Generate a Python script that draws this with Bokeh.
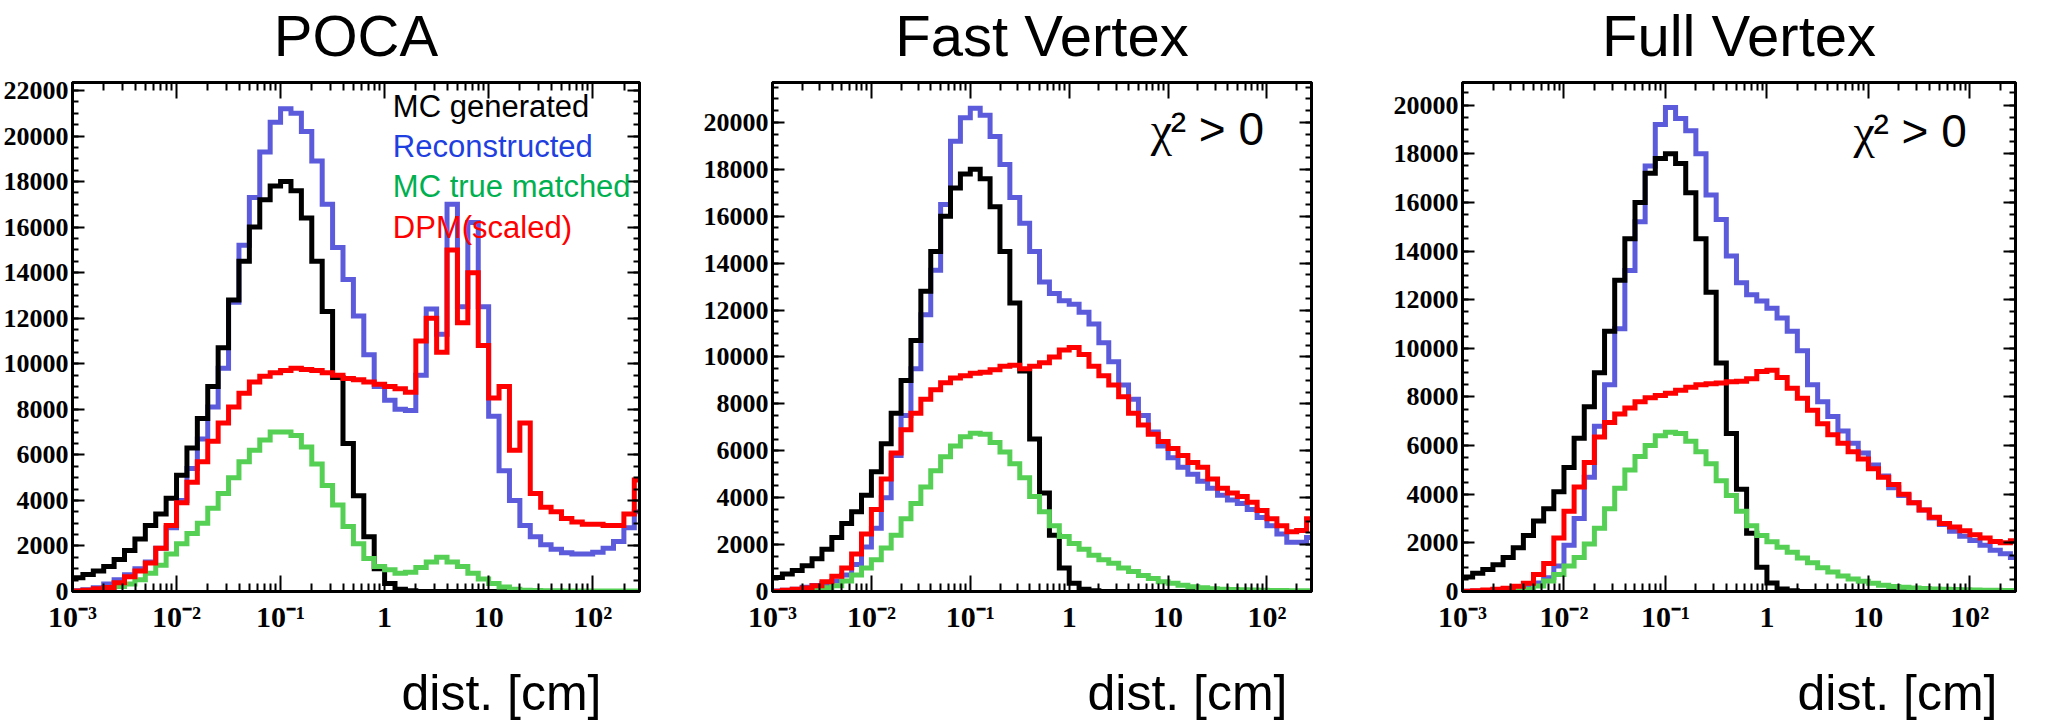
from bokeh.plotting import figure
from bokeh.models import (FixedTicker, LinearAxis, LogAxis, Label, Title, Range1d,
                          CustomJSTickFormatter)
from bokeh.layouts import row
from bokeh.embed import file_html
from bokeh.resources import INLINE

# ---------------- data ----------------
# 55 log-spaced bins, 0.1 decade wide, starting at 1e-3 cm
log_bin_start = -3.0
log_bin_width = 0.1
n_bins = 55
bin_edges = [10 ** (log_bin_start + log_bin_width * k) for k in range(n_bins + 1)]

x_ticks = [1e-3, 1e-2, 1e-1, 1, 10, 100]
x_tick_labels = ["10\u207b\u00b3", "10\u207b\u00b2", "10\u207b\u00b9", "1", "10", "10\u00b2"]

panel_titles = ["POCA", "Fast Vertex", "Full Vertex"]
series_names = ["MC generated", "Reconstructed", "MC true matched", "DPM(scaled)"]
x_axis_title = "dist. [cm]"
cut_symbol = "\u03c7"
cut_rest = "\u00b2 > 0"

mc_generated = [600, 750, 900, 1100, 1400, 1800, 2300, 2900, 3400, 4100, 5100,
                6300, 7600, 9000, 10700, 12800, 14500, 16000, 17200, 17800, 18000, 17600,
                16400, 14500, 12300, 9400, 6500, 4200, 2400, 1000, 350, 100, 30,
                0, 0, 0, 0, 0, 0, 0, 0, 0, 0, 0,
                0, 0, 0, 0, 0, 0, 0, 0, 0, 0, 0]

poca_reco = [30, 80, 170, 330, 520, 740, 1000, 1300, 1900, 2800, 4000,
             5400, 6700, 8100, 9800, 12700, 15200, 17300, 19300, 20600, 21200, 21000,
             20200, 18900, 17000, 15100, 13700, 12100, 10400, 9000, 8400, 8000, 7950,
             9500, 12400, 11300, 17000, 12500, 16200, 12500, 7700, 5300, 4000, 2900,
             2400, 2050, 1850, 1700, 1650, 1650, 1720, 1900, 2200, 2800, 3500]

poca_true = [0, 20, 60, 120, 220, 330, 520, 800, 1150, 1650, 2100,
             2550, 3000, 3650, 4300, 5000, 5700, 6200, 6650, 7000, 7000, 6850,
             6350, 5600, 4650, 3800, 2850, 2100, 1450, 1100, 950, 800, 850,
             1050, 1300, 1500, 1300, 1100, 800, 550, 350, 200, 100, 60,
             40, 30, 30, 25, 25, 25, 25, 20, 20, 20, 20]

poca_dpm = [20, 60, 120, 180, 380, 650, 900, 1250, 1900, 2900, 3900,
            4800, 5700, 6600, 7400, 8100, 8700, 9200, 9450, 9600, 9700, 9800,
            9750, 9700, 9600, 9500, 9350, 9300, 9200, 9100, 9000, 8900, 8750,
            11000, 12000, 10500, 15000, 11800, 14000, 10800, 8500, 9000, 6200, 7400,
            4300, 3700, 3500, 3200, 3050, 2950, 2950, 2900, 2900, 3400, 4900]

fast_reco = [20, 50, 100, 180, 260, 340, 450, 700, 1150, 1900, 2700,
             4000, 5800, 7500, 9500, 11800, 13700, 16500, 19200, 20200, 20600, 20300,
             19400, 18200, 16800, 15700, 14500, 13200, 12700, 12400, 12250, 11900, 11400,
             10600, 9800, 8800, 8200, 7500, 6800, 6200, 5700, 5300, 5000, 4700,
             4400, 4100, 3900, 3750, 3500, 3150, 2800, 2450, 2100, 2100, 2300]

fast_true = [0, 10, 30, 60, 100, 160, 250, 450, 700, 1000, 1350,
             1850, 2400, 3100, 3750, 4450, 5150, 5750, 6200, 6600, 6750, 6700,
             6350, 5950, 5450, 4850, 4050, 3400, 2800, 2350, 2050, 1800, 1550,
             1350, 1200, 1000, 850, 680, 550, 420, 350, 270, 200, 160,
             120, 100, 80, 70, 60, 55, 45, 40, 35, 30, 30]

fast_dpm = [10, 50, 100, 150, 250, 420, 650, 1000, 1600, 2450, 3500,
            4800, 5900, 6900, 7600, 8200, 8600, 8900, 9100, 9200, 9300, 9350,
            9450, 9600, 9650, 9500, 9600, 9750, 10000, 10300, 10400, 10100, 9600,
            9200, 8800, 8300, 7600, 7100, 6700, 6400, 6100, 5800, 5500, 5300,
            4800, 4400, 4200, 4050, 3800, 3450, 3100, 2800, 2550, 2600, 3100]

full_reco = [10, 25, 45, 70, 100, 140, 190, 350, 570, 1050, 1900,
             3000, 4700, 6800, 8500, 10800, 13200, 15200, 17500, 19200, 19900, 19450,
             18950, 18000, 16300, 15300, 13800, 12700, 12200, 11950, 11650, 11250, 10700,
             9900, 8500, 7800, 7200, 6600, 6100, 5700, 5200, 4750, 4270, 3950,
             3650, 3350, 3020, 2750, 2480, 2270, 2100, 1900, 1700, 1550, 1400]

full_true = [0, 5, 10, 20, 35, 55, 90, 230, 430, 700, 1050,
             1400, 1950, 2600, 3400, 4250, 5000, 5550, 6000, 6400, 6550, 6500,
             6180, 5750, 5250, 4550, 3950, 3300, 2700, 2300, 2050, 1820, 1610,
             1380, 1180, 980, 800, 640, 510, 420, 340, 260, 210, 170,
             145, 120, 100, 90, 80, 70, 60, 55, 50, 45, 40]

full_dpm = [10, 30, 60, 90, 130, 220, 340, 700, 1150, 2200, 3300,
            4300, 5300, 6350, 6950, 7300, 7550, 7800, 7970, 8060, 8150, 8280,
            8400, 8500, 8540, 8570, 8620, 8650, 8750, 9050, 9100, 8800, 8360,
            7950, 7450, 6900, 6450, 6100, 5750, 5450, 5050, 4700, 4400, 4000,
            3650, 3350, 3050, 2800, 2650, 2500, 2330, 2200, 2060, 2000, 2090]

# ---------------- style ----------------
x_min, x_max = 1e-3, 10 ** 2.45
x_mid = (x_min * x_max) ** 0.5
col_gen = "#000000"
col_reco = "#5b5bdc"
col_true = "#55d055"
col_dpm = "#ff0000"
legend_colors = ["#000000", "#1f3fe0", "#00b050", "#ff0000"]

panels = [
    dict(title=panel_titles[0], reco=poca_reco, true=poca_true, dpm=poca_dpm,
         y_max=22350, width=700, left=72, right=61, legend=True, chi=False,
         xlab_off=38),
    dict(title=panel_titles[1], reco=fast_reco, true=fast_true, dpm=fast_dpm,
         y_max=21700, width=690, left=67, right=79, legend=False, chi=True,
         xlab_off=24),
    dict(title=panel_titles[2], reco=full_reco, true=full_true, dpm=full_dpm,
         y_max=20930, width=655, left=71, right=30, legend=False, chi=True,
         xlab_off=18),
]

y_major = list(range(0, 22001, 2000))
y_minor = list(range(0, 22501, 500))
x_minor = [m * 10.0 ** e for e in range(-3, 3) for m in range(2, 10) if m * 10.0 ** e < x_max]
overrides = {t: lab for t, lab in zip(x_ticks, x_tick_labels)}


def style_axis(ax, major_in, minor_in, show_labels, font_size="26px"):
    ax.major_tick_in = major_in
    ax.major_tick_out = 0
    ax.minor_tick_in = minor_in
    ax.minor_tick_out = 0
    ax.major_tick_line_width = 2
    ax.minor_tick_line_width = 2
    ax.major_tick_line_color = "black"
    ax.minor_tick_line_color = "black"
    ax.axis_line_width = 3
    ax.axis_line_color = "black"
    ax.major_label_text_font = "Liberation Serif"
    ax.major_label_text_font_style = "bold"
    ax.major_label_text_color = "black"
    ax.major_label_text_font_size = font_size
    if not show_labels:
        ax.formatter = CustomJSTickFormatter(code="return ''")
        ax.major_label_standoff = 0


def spacer_axis(size):
    # invisible axis used only to reserve space between the frame and a title
    ax = LinearAxis(ticker=FixedTicker(ticks=[x_mid]),
                    formatter=CustomJSTickFormatter(code="return ''"))
    ax.major_tick_out = size
    ax.major_tick_in = 0
    ax.minor_tick_out = 0
    ax.minor_tick_in = 0
    ax.major_label_standoff = 0
    ax.major_tick_line_alpha = 0
    ax.minor_tick_line_alpha = 0
    ax.axis_line_alpha = 0
    return ax


def step_xy(vals):
    return list(bin_edges), list(vals) + [vals[-1]]


figs = []
for cfg in panels:
    p = figure(width=cfg["width"], height=725, x_axis_type="log",
               x_range=Range1d(x_min, x_max), y_range=Range1d(0, cfg["y_max"]),
               output_backend="svg", toolbar_location=None, title=None,
               min_border_left=cfg["left"], min_border_right=cfg["right"],
               min_border_top=81, min_border_bottom=134)
    p.grid.visible = False
    p.outline_line_color = "black"
    p.outline_line_width = 3
    p.background_fill_color = "white"
    p.border_fill_color = "white"

    # bottom (log) axis
    xa = p.xaxis[0]
    xa.ticker = FixedTicker(ticks=x_ticks, minor_ticks=x_minor)
    xa.major_label_overrides = overrides
    style_axis(xa, 16, 8, True, "30px")
    xa.major_label_standoff = 8
    # left axis
    ya = p.yaxis[0]
    ya.ticker = FixedTicker(ticks=y_major, minor_ticks=y_minor)
    style_axis(ya, 12, 6, True, "26px")
    ya.major_label_standoff = 4
    # mirrored axes (ticks only)
    top = LogAxis(ticker=FixedTicker(ticks=x_ticks, minor_ticks=x_minor))
    style_axis(top, 16, 8, False)
    p.add_layout(top, "above")
    right = LinearAxis(ticker=FixedTicker(ticks=y_major, minor_ticks=y_minor))
    style_axis(right, 12, 6, False)
    p.add_layout(right, "right")

    # histograms
    for vals, col in [(cfg["reco"], col_reco), (mc_generated, col_gen),
                      (cfg["true"], col_true), (cfg["dpm"], col_dpm)]:
        xs, ys = step_xy(vals)
        p.step(xs, ys, mode="after", line_color=col, line_width=5, line_join="miter")

    # panel title (above) and x-axis title (below, right aligned)
    p.add_layout(spacer_axis(15), "above")
    p.add_layout(Title(text=cfg["title"], align="center", vertical_align="bottom",
                       text_font="Liberation Sans", text_font_size="58px",
                       text_font_style="normal", text_color="black", standoff=0),
                 "above")
    p.add_layout(spacer_axis(29), "below")
    p.add_layout(Title(text=x_axis_title, align="right", vertical_align="top",
                       offset=cfg["xlab_off"], text_font="Liberation Sans",
                       text_font_size="50px", text_font_style="normal",
                       text_color="black", standoff=0), "below")

    if cfg["legend"]:
        ys_leg = [21300, 19550, 17780, 16000]
        for name, col, yv in zip(series_names, legend_colors, ys_leg):
            p.add_layout(Label(x=1.2, y=yv, text=name, text_font="Liberation Sans",
                               text_font_size="31px", text_color=col,
                               text_baseline="middle"))
    if cfg["chi"]:
        yc = cfg["y_max"] - 2000
        p.add_layout(Label(x=10 ** 1.97, y=yc, text=cut_rest,
                           text_font="Liberation Sans", text_font_size="46px",
                           text_color="black", text_align="right",
                           text_baseline="middle"))
        p.add_layout(Label(x=10 ** 1.97, y=yc, x_offset=-92, text=cut_symbol,
                           text_font="Liberation Serif", text_font_size="48px",
                           text_color="black", text_align="right",
                           text_baseline="middle"))
    figs.append(p)

layout = row(*figs, spacing=0)
open("out.html", "w").write(file_html(layout, INLINE))
